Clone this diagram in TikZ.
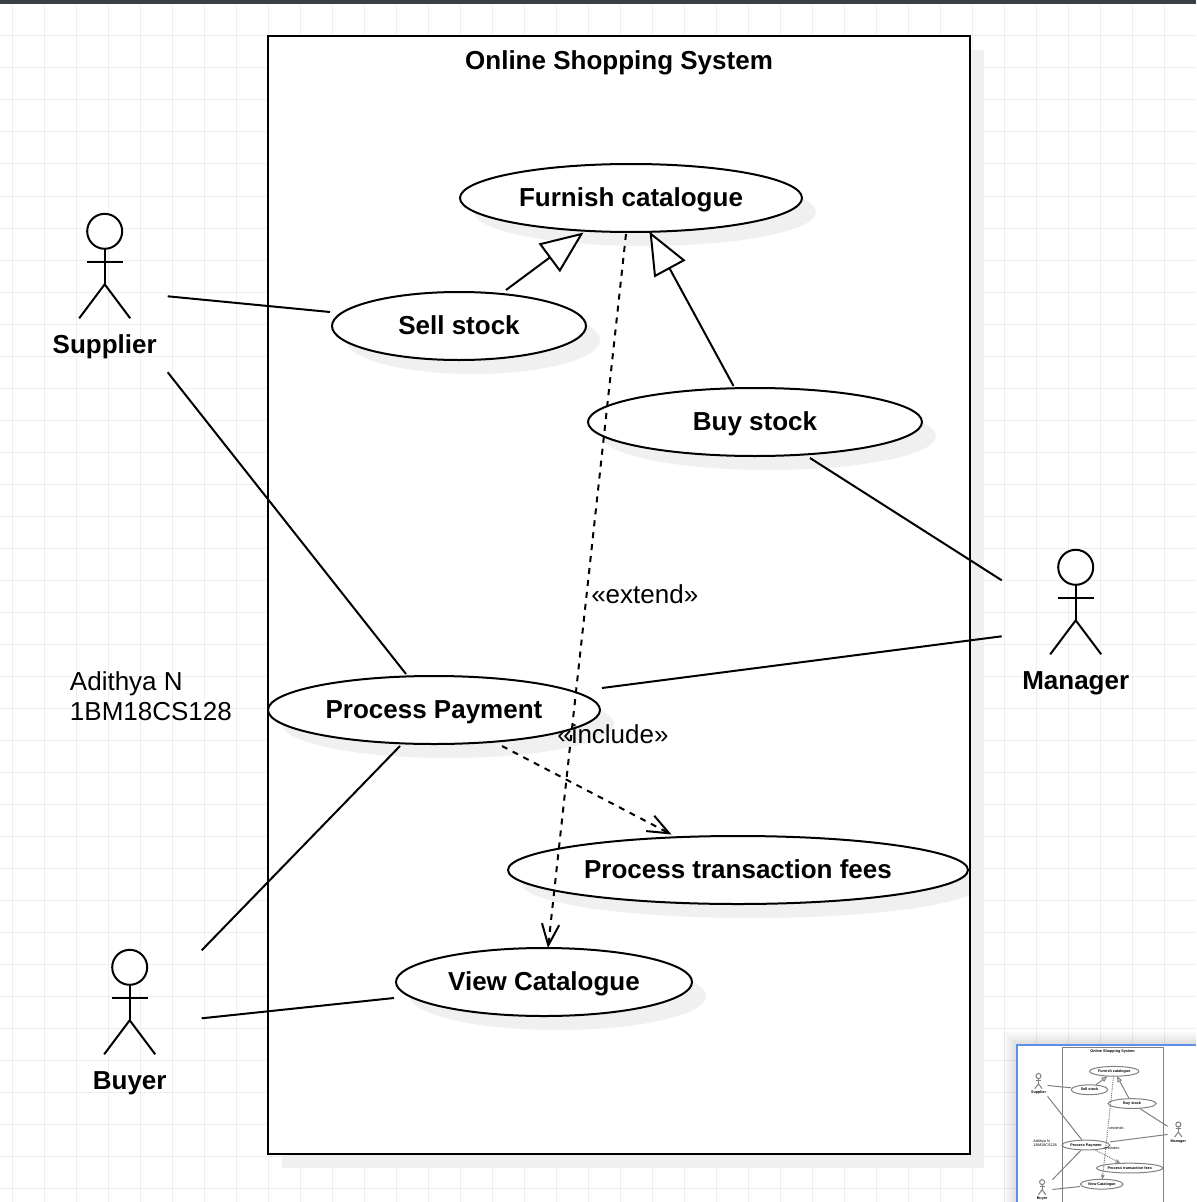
\documentclass[tikz,border=0pt]{standalone}
\usepackage{fontspec}
\setmainfont{Liberation Sans}
\usetikzlibrary{arrows.meta,shadows,shapes.geometric}
\definecolor{gridc}{HTML}{EEEEEE}
\definecolor{shadec}{HTML}{F0F0F0}
\definecolor{barc}{HTML}{3B4045}
\definecolor{miniblue}{HTML}{5B8FE8}
\def\px{0.75pt}
\tikzset{
 umlline/.style={draw=black,line width=1.5pt},
 umlshade/.style={general shadow={fill=shadec,shadow xshift=10.5pt,shadow yshift=-10.5pt}},
 usecase/.style={ellipse,umlline,fill=white,inner sep=0pt,outer sep=0pt,minimum height=68*\px,umlshade,text height=16pt,text depth=3.2pt,font=\fontsize{19.5}{24}\selectfont\bfseries},
 umlbox/.style={rectangle,umlline,fill=white,inner sep=0pt,outer sep=0pt,umlshade},
 actorhead/.style={circle,umlline,fill=white,inner sep=0pt,outer sep=0pt,minimum size=35*\px},
 boldlabel/.style={inner sep=0pt,text height=16pt,text depth=3.2pt,font=\fontsize{19.5}{24}\selectfont\bfseries},
 pluslabel/.style={inner sep=0pt,font=\fontsize{19.5}{24}\selectfont},
 gentip/.style={-{Triangle[open,fill=white,length=32pt,width=26.5pt]}},
 barbtip/.style={-{Straight Barb[length=16pt,width=13pt]}},
 dashline/.style={dash pattern=on 4.5pt off 4.5pt},
}
\newcommand{\umlActor}[4]{%
 \node[actorhead] (#1) at (#2,#3) {};
 \draw[umlline] (#1.south) -- ([shift={(0,53)}]#1.center);
 \draw[umlline] ([shift={(-18,31)}]#1.center) -- ([shift={(18,31)}]#1.center);
 \draw[umlline] ([shift={(-25.5,87)}]#1.center) -- ([shift={(0,53)}]#1.center) -- ([shift={(25.5,87)}]#1.center);
 \node[boldlabel] (#1label) at (#2,#3+114) {#4};
}
\newcommand{\umlDiagram}{%
 \node[umlbox,minimum width=702*\px,minimum height=1118*\px] (sys) at (619,595) {};
 \node[boldlabel] (title) at (619,61) {Online Shopping System};
 \node[usecase,minimum width=342*\px] (furnish) at (631,198) {Furnish catalogue};
 \node[usecase,minimum width=254*\px] (sell) at (459,326) {Sell stock};
 \node[usecase,minimum width=334*\px] (buy) at (755,422) {Buy stock};
 \node[usecase,minimum width=332*\px] (pay) at (434,710) {Process Payment};
 \node[usecase,minimum width=460*\px] (fees) at (738,870) {Process transaction fees};
 \node[usecase,minimum width=296*\px] (view) at (544,982) {View Catalogue};
 \draw[umlline] (sys.north east) -- (sys.south east);
 \umlActor{supplier}{104.7}{231.3}{Supplier}
 \umlActor{manager}{1075.7}{567.3}{Manager}
 \umlActor{buyer}{129.7}{967.3}{Buyer}
 \node[pluslabel,anchor=west,align=left,font=\fontsize{19.5}{22.5}\selectfont] (author) at (69.7,696) {Adithya N\\1BM18CS128};
 \draw[umlline] ([shift={(63,65)}]supplier.center) -- ([shift={(-129,-14)}]sell.center);
 \draw[umlline] ([shift={(63,141)}]supplier.center) -- ([shift={(-28,-36)}]pay.center);
 \draw[umlline] ([shift={(55,36)}]buy.center) -- ([shift={(-74,13)}]manager.center);
 \draw[umlline] ([shift={(168,-22)}]pay.center) -- ([shift={(-74,69)}]manager.center);
 \draw[umlline] ([shift={(-34,36)}]pay.center) -- ([shift={(72,-17)}]buyer.center);
 \draw[umlline] ([shift={(-150,16)}]view.center) -- ([shift={(72,51)}]buyer.center);
 \draw[umlline,gentip] ([shift={(47,-36)}]sell.center) -- ([shift={(-47.5,34.5)}]furnish.center);
 \draw[umlline,gentip] ([shift={(-21.5,-36)}]buy.center) -- ([shift={(18.5,33.5)}]furnish.center);
 \draw[umlline,dashline,barbtip] ([shift={(-5,36)}]furnish.center) -- ([shift={(4,-34)}]view.center);
 \draw[umlline,dashline,barbtip] ([shift={(68,36)}]pay.center) -- ([shift={(-66.5,-35.5)}]fees.center);
 \node[pluslabel,anchor=west] (extendlabel) at (591,594) {«extend»};
 \node[pluslabel,anchor=west] (includelabel) at (557,734) {«include»};
}
\begin{document}
\begin{tikzpicture}[x=0.75pt,y=-0.75pt]
\useasboundingbox (0,0) rectangle (1196,1202);
\fill[white] (0,0) rectangle (1196,1202);
\foreach \k in {0,...,36} {\draw[gridc,line width=.75pt] (12.5+32*\k,4) -- (12.5+32*\k,1202);}
\foreach \k in {0,...,36} {\draw[gridc,line width=.75pt] (0,36+32*\k) -- (1196,36+32*\k);}
\fill[barc] (0,0) rectangle (1196,4);
\umlDiagram
% overview panel
\foreach \w in {2,4,6,8,10,12} {\fill[black,opacity=.018] (1016-\w,1044-\w) rectangle (1196,1202);}
\fill[white] (1016,1044) rectangle (1196,1202);
\begin{scope}
 \clip (1018,1046) rectangle (1196,1202);
 \begin{scope}[shift={(1023.4,1042.8)},scale=.144,transform shape,name prefix=m-,
  umlline/.style={draw=black!50,line width=.75pt},
  umlshade/.style={},
  gentip/.style={-{Triangle[open,fill=white,length=4.5pt,width=3.6pt]}},
  barbtip/.style={-{Straight Barb[length=2.5pt,width=2pt]}},
  dashline/.style={dash pattern=on .7pt off .7pt}]
  \umlDiagram
 \end{scope}
\end{scope}
\draw[miniblue,line width=1.5pt] (1017,1202) -- (1017,1045) -- (1196,1045);
\end{tikzpicture}
\end{document}
